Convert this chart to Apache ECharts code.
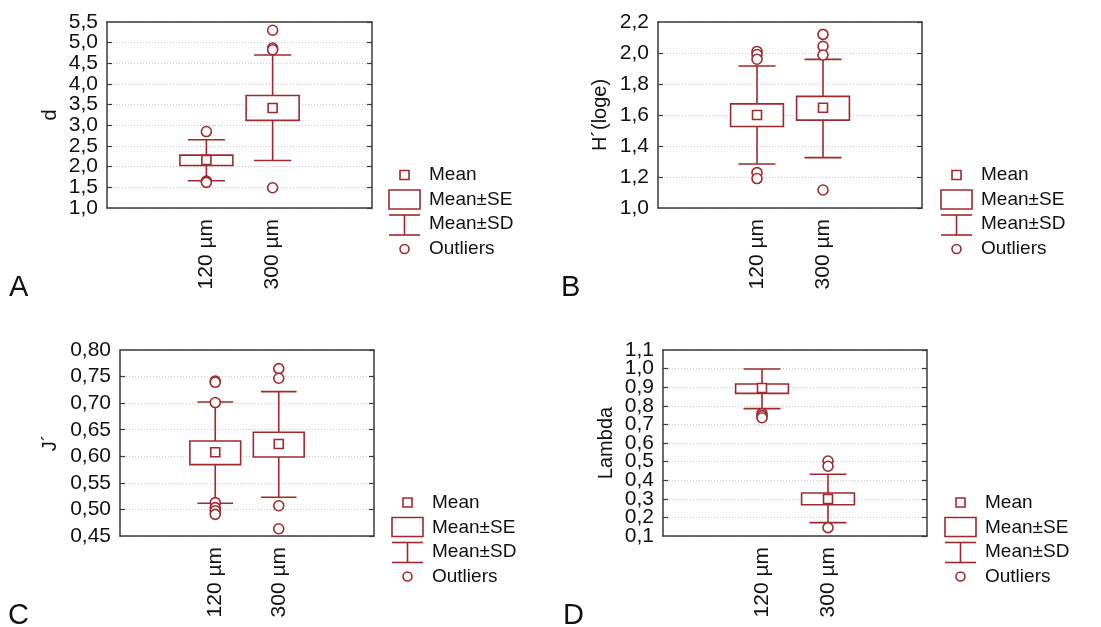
<!DOCTYPE html>
<html>
<head>
<meta charset="utf-8">
<script src="https://cdn.jsdelivr.net/npm/echarts@6/dist/echarts.min.js"></script>
<style>
html,body{margin:0;padding:0;background:#fff;}
#chart{width:1101px;height:627px;}
</style>
</head>
<body>
<div id="chart"></div>
<script>
// ---------- data ----------
const categories = ['', '120 µm', '300 µm', ''];
const groupIndex = [1, 2];

// Panel A: d
const dMean   = [2.16, 3.42];
const dSeLow  = [2.03, 3.12];
const dSeHigh = [2.28, 3.72];
const dSdLow  = [1.66, 2.15];
const dSdHigh = [2.65, 4.70];
const dOut120 = [2.85, 1.65, 1.62];
const dOut300 = [5.30, 4.87, 4.83, 1.49];

// Panel B: H´(loge)
const hMean   = [1.600, 1.647];
const hSeLow  = [1.526, 1.567];
const hSeHigh = [1.672, 1.720];
const hSdLow  = [1.284, 1.325];
const hSdHigh = [1.916, 1.959];
const hOut120 = [2.01, 1.99, 1.96, 1.228, 1.19];
const hOut300 = [2.12, 2.043, 1.987, 1.116];

// Panel C: J´
const jMean   = [0.6075, 0.6231];
const jSeLow  = [0.5843, 0.5987];
const jSeHigh = [0.6288, 0.6451];
const jSdLow  = [0.5115, 0.5228];
const jSdHigh = [0.7022, 0.7216];
const jOut120 = [0.7417, 0.7392, 0.7011, 0.5128, 0.5033, 0.4976, 0.4907];
const jOut300 = [0.765, 0.7468, 0.5069, 0.4636];

// Panel D: Lambda
const lMean   = [0.896, 0.299];
const lSeLow  = [0.867, 0.268];
const lSeHigh = [0.917, 0.331];
const lSdLow  = [0.785, 0.172];
const lSdHigh = [0.998, 0.432];
const lOut120 = [0.758, 0.747, 0.736];
const lOut300 = [0.503, 0.475, 0.145];

// y axis scales: [min, max, interval, decimals]
const yScaleA = [1.0, 5.5, 0.5, 1];
const yScaleB = [1.0, 2.2, 0.2, 1];
const yScaleC = [0.45, 0.80, 0.05, 2];
const yScaleD = [0.1, 1.1, 0.1, 1];

const axisNames = ['d', 'H\u00B4(loge)', 'J\u00B4', 'Lambda'];
const panelLetters = ['A', 'B', 'C', 'D'];
const legendLabels = ['Mean', 'Mean\u00B1SE', 'Mean\u00B1SD', 'Outliers'];

// ---------- styling ----------
const RED = '#9e2a2f';
const FRAME = '#3a3a3a';
const FONT = '"Liberation Sans", Arial, sans-serif';

const grids = [
  {left: 107, top: 22, width: 265, height: 186},
  {left: 658, top: 22, width: 264, height: 186},
  {left: 120, top: 350, width: 254, height: 186},
  {left: 663, top: 350, width: 264, height: 186}
];
const nameGaps = [47, 48, 60, 47];
const legendOrigins = [[389, 175], [941, 175], [392, 502.5], [945, 502.5]];
const letterPos = [[9, 288], [561, 288], [8, 616], [563, 616]];

const panels = [
  {mean: dMean, seL: dSeLow, seH: dSeHigh, sdL: dSdLow, sdH: dSdHigh, o1: dOut120, o2: dOut300, scale: yScaleA},
  {mean: hMean, seL: hSeLow, seH: hSeHigh, sdL: hSdLow, sdH: hSdHigh, o1: hOut120, o2: hOut300, scale: yScaleB},
  {mean: jMean, seL: jSeLow, seH: jSeHigh, sdL: jSdLow, sdH: jSdHigh, o1: jOut120, o2: jOut300, scale: yScaleC},
  {mean: lMean, seL: lSeLow, seH: lSeHigh, sdL: lSdLow, sdH: lSdHigh, o1: lOut120, o2: lOut300, scale: yScaleD}
];

function renderBox(params, api) {
  const x = api.value(0);
  const mean = api.value(1), seL = api.value(2), seH = api.value(3), sdL = api.value(4), sdH = api.value(5);
  const band = api.size([1, 0])[0];
  const pM = api.coord([x, mean]);
  const pSeL = api.coord([x, seL]), pSeH = api.coord([x, seH]);
  const pSdL = api.coord([x, sdL]), pSdH = api.coord([x, sdH]);
  const cx = pM[0];
  const bw = band * 0.8, cw = band * 0.56, ms = 9;
  const ls = {stroke: RED, lineWidth: 1.6, fill: null};
  return {
    type: 'group',
    children: [
      {type: 'line', shape: {x1: cx, y1: pSdH[1], x2: cx, y2: pSdL[1]}, style: ls},
      {type: 'line', shape: {x1: cx - cw / 2, y1: pSdH[1], x2: cx + cw / 2, y2: pSdH[1]}, style: ls},
      {type: 'line', shape: {x1: cx - cw / 2, y1: pSdL[1], x2: cx + cw / 2, y2: pSdL[1]}, style: ls},
      {type: 'rect', shape: {x: cx - bw / 2, y: pSeH[1], width: bw, height: pSeL[1] - pSeH[1]},
        style: {stroke: RED, lineWidth: 1.6, fill: '#fff'}},
      {type: 'rect', shape: {x: cx - ms / 2, y: pM[1] - ms / 2, width: ms, height: ms},
        style: {stroke: RED, lineWidth: 1.6, fill: '#fff'}}
    ]
  };
}

function fmt(dec) {
  return function (v) { return v.toFixed(dec).replace('.', ','); };
}
function fmtEnds(dec, mn, mx) {
  return function (v) {
    return (Math.abs(v - mn) < 1e-9 || Math.abs(v - mx) < 1e-9) ? v.toFixed(dec).replace('.', ',') : '';
  };
}

const xAxis = [], yAxis = [], series = [], graphic = [];
const labelStyle = {margin: 9, color: '#111', fontSize: 21, fontFamily: FONT};

panels.forEach(function (p, i) {
  const [mn, mx, iv, dec] = p.scale;
  xAxis.push({
    type: 'category', gridIndex: i, data: categories, position: 'bottom',
    boundaryGap: true,
    axisLine: {lineStyle: {color: FRAME, width: 1.5}},
    axisTick: {inside: true, alignWithLabel: true, interval: 0, length: 5, lineStyle: {color: FRAME, width: 1.2}},
    axisLabel: {rotate: 90, interval: 0, margin: 11, color: '#111', fontSize: 21, fontFamily: FONT},
    splitLine: {show: false}
  });
  xAxis.push({
    type: 'category', gridIndex: i, data: categories, position: 'top',
    boundaryGap: true,
    axisLine: {lineStyle: {color: FRAME, width: 1.5}},
    axisTick: {inside: true, alignWithLabel: true, interval: 0, length: 5, lineStyle: {color: FRAME, width: 1.2}},
    axisLabel: {show: false},
    splitLine: {show: false}
  });
  // primary left axis: frame, ticks, grid lines, inner labels
  yAxis.push({
    type: 'value', gridIndex: i, min: mn, max: mx, interval: iv, position: 'left',
    name: axisNames[i], nameLocation: 'middle', nameGap: nameGaps[i],
    nameTextStyle: {color: '#111', fontSize: 20, fontFamily: FONT},
    axisLine: {show: true, lineStyle: {color: FRAME, width: 1.5}},
    axisTick: {show: true, inside: true, length: 5, lineStyle: {color: FRAME, width: 1.2}},
    axisLabel: Object.assign({formatter: fmt(dec), showMinLabel: false, showMaxLabel: false}, labelStyle),
    splitLine: {show: true, lineStyle: {color: '#c8c8c8', type: [1, 2], width: 1}}
  });
  // right axis: frame + ticks
  yAxis.push({
    type: 'value', gridIndex: i, min: mn, max: mx, interval: iv, position: 'right',
    axisLine: {show: true, lineStyle: {color: FRAME, width: 1.5}},
    axisTick: {show: true, inside: true, length: 5, lineStyle: {color: FRAME, width: 1.2}},
    axisLabel: {show: false},
    splitLine: {show: false}
  });
  // secondary left axis: only the end labels
  yAxis.push({
    type: 'value', gridIndex: i, min: mn, max: mx, interval: iv, position: 'left',
    axisLine: {show: false}, axisTick: {show: false}, splitLine: {show: false},
    axisLabel: Object.assign({formatter: fmtEnds(dec, mn, mx), showMinLabel: true, showMaxLabel: true}, labelStyle)
  });
  const boxData = groupIndex.map(function (g, k) {
    return [g, p.mean[k], p.seL[k], p.seH[k], p.sdL[k], p.sdH[k]];
  });
  series.push({
    type: 'custom', name: 'Mean\u00B1SD', xAxisIndex: 2 * i, yAxisIndex: 3 * i,
    renderItem: renderBox, data: boxData, clip: false,
    encode: {x: 0, y: [1, 2, 3, 4, 5]}, z: 2
  });
  const outData = p.o1.map(function (v) { return [groupIndex[0], v]; })
    .concat(p.o2.map(function (v) { return [groupIndex[1], v]; }));
  series.push({
    type: 'scatter', name: 'Outliers', xAxisIndex: 2 * i, yAxisIndex: 3 * i,
    data: outData, symbol: 'circle', symbolSize: 10,
    itemStyle: {color: '#fff', borderColor: RED, borderWidth: 1.6, opacity: 1},
    z: 3, silent: true
  });

  // legend drawn as graphic
  const [lx, ly] = legendOrigins[i];
  const tStyle = {fill: '#111', fontSize: 19, fontFamily: FONT, verticalAlign: 'middle', align: 'left'};
  const sw = 31;
  const mx0 = lx + sw / 2;
  const items = [
    {type: 'rect', shape: {x: mx0 - 4.5, y: ly - 4.5, width: 9, height: 9}, style: {stroke: RED, lineWidth: 1.6, fill: '#fff'}},
    {type: 'rect', shape: {x: lx, y: ly + 15, width: sw, height: 19}, style: {stroke: RED, lineWidth: 1.6, fill: '#fff'}},
    {type: 'line', shape: {x1: lx, y1: ly + 40, x2: lx + sw, y2: ly + 40}, style: {stroke: RED, lineWidth: 1.6}},
    {type: 'line', shape: {x1: lx, y1: ly + 60, x2: lx + sw, y2: ly + 60}, style: {stroke: RED, lineWidth: 1.6}},
    {type: 'line', shape: {x1: mx0, y1: ly + 40, x2: mx0, y2: ly + 60}, style: {stroke: RED, lineWidth: 1.6}},
    {type: 'circle', shape: {cx: mx0, cy: ly + 74, r: 4.5}, style: {stroke: RED, lineWidth: 1.6, fill: '#fff'}}
  ];
  legendLabels.forEach(function (t, k) {
    items.push({type: 'text', x: lx + 40, y: ly + [0, 25, 49, 74][k], style: Object.assign({text: t}, tStyle)});
  });
  graphic.push({type: 'group', children: items});
  graphic.push({type: 'text', x: letterPos[i][0], y: letterPos[i][1],
    style: {text: panelLetters[i], fill: '#111', fontSize: 29, fontFamily: FONT, verticalAlign: 'middle', align: 'left'}});
});

const chart = echarts.init(document.getElementById('chart'), null, {renderer: 'canvas'});
chart.setOption({
  animation: false,
  backgroundColor: '#fff',
  grid: grids,
  xAxis: xAxis,
  yAxis: yAxis,
  series: series,
  graphic: graphic
});
</script>
</body>
</html>
